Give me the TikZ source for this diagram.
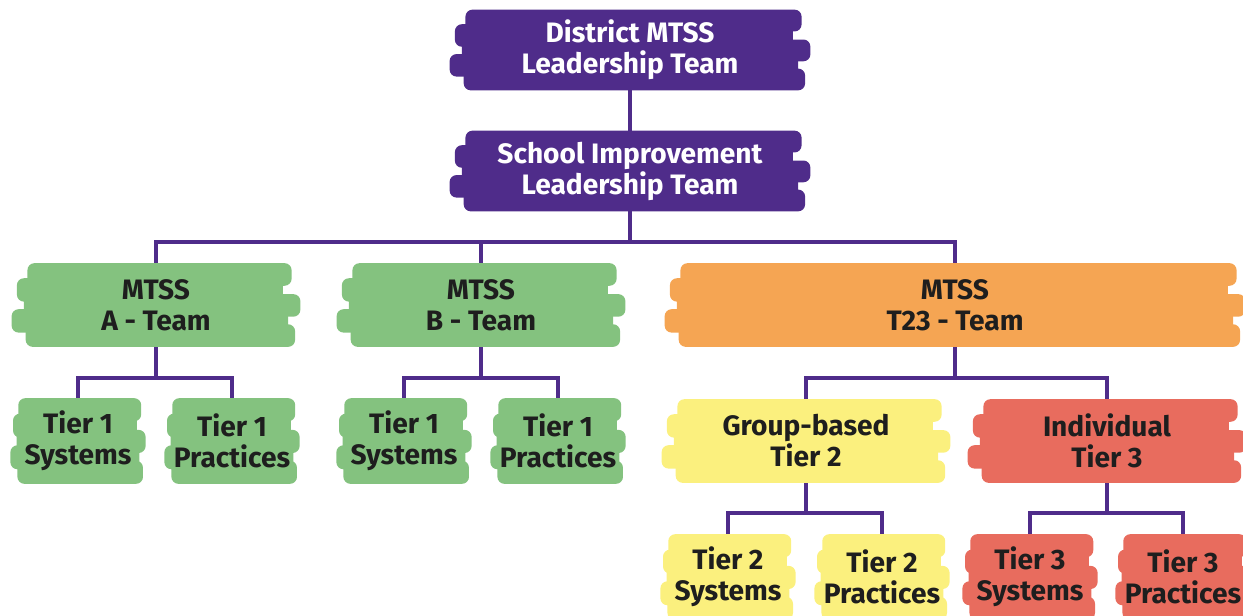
\documentclass[tikz,border=0pt]{standalone}
\usepackage{fontspec}
\setmainfont{Fira Sans}
\usetikzlibrary{positioning,backgrounds,calc}

\definecolor{mtsspurple}{HTML}{4F2C8A}
\definecolor{mtssgreen}{HTML}{84C27F}
\definecolor{mtssorange}{HTML}{F5A553}
\definecolor{mtssyellow}{HTML}{FBF07E}
\definecolor{mtssred}{HTML}{E86C5E}
\definecolor{mtssink}{HTML}{1E1E1E}

% brush strokes behind a node: node, colour, reach of the ragged ends
\newcommand{\brushfill}[3]{%
  \foreach \a/\b/\l/\r in {0/0.27/1/5, 0.18/0.46/7/0, 0.37/0.64/3/10, 0.55/0.83/10/3, 0.73/1/2/7}{
    \fill[#2, rounded corners=4pt]
      ($(#1.north west)!\a!(#1.south west)+({-\l*#3*1pt},0pt)$) rectangle
      ($(#1.north east)!\b!(#1.south east)+({\r*#3*1pt},0pt)$);
  }
}

\tikzset{
  box/.style={align=center, text=mtssink, inner sep=0pt,
    font=\bfseries\fontsize{16}{17.6}\selectfont},
  topbox/.style={box, text=white, minimum width=6.5cm, minimum height=1.6cm},
  teambox/.style={box, minimum width=5.06cm, minimum height=1.66cm},
  tierbox/.style={box, minimum width=2.34cm, minimum height=1.7cm},
  link/.style={draw=mtsspurple, line width=2pt},
}

\begin{document}
\begin{tikzpicture}[x=0.02cm, y=-0.02cm]
  \useasboundingbox (0,0) rectangle (1243,615);

  \node[topbox] (district) at (630,50) {District MTSS\\Leadership Team};
  \node[topbox] (school) at (630,171) {School Improvement\\Leadership Team};

  \node[teambox] (ateam) at (156,305) {MTSS\\A - Team};
  \node[teambox] (bteam) at (481,305) {MTSS\\B - Team};
  \node[teambox, minimum width=10.9cm] (tteam) at (955,305) {MTSS\\T23 - Team};

  \node[tierbox] (asys) at (78,441) {Tier 1\\Systems};
  \node[tierbox] (aprac) at (232,441) {Tier 1\\Practices};
  \node[tierbox] (bsys) at (404,441) {Tier 1\\Systems};
  \node[tierbox] (bprac) at (558,441) {Tier 1\\Practices};

  \node[teambox] (group) at (806,441) {Group-based\\Tier 2};
  \node[teambox, minimum width=4.86cm] (indiv) at (1107,441) {Individual\\Tier 3};

  \node[tierbox] (tsys) at (728,577) {Tier 2\\Systems};
  \node[tierbox] (tprac) at (882,577) {Tier 2\\Practices};
  \node[tierbox] (isys) at (1030,577) {Tier 3\\Systems};
  \node[tierbox] (iprac) at (1183,577) {Tier 3\\Practices};

  \coordinate (bus) at (630,242);
  \coordinate (busA) at (156,378);
  \coordinate (busB) at (481,378);
  \coordinate (busT) at (955,378);
  \coordinate (busG) at (806,513);
  \coordinate (busI) at (1107,513);

  \begin{scope}[on background layer]
    \draw[link] (district) -- (school);
    \draw[link] (school) -- (bus);
    \draw[link] (ateam) |- (bus) -| (tteam);
    \draw[link] (bteam) -- (bteam |- bus);
    \draw[link] (ateam) -- (busA);
    \draw[link] (asys) |- (busA) -| (aprac);
    \draw[link] (bteam) -- (busB);
    \draw[link] (bsys) |- (busB) -| (bprac);
    \draw[link] (tteam) -- (busT);
    \draw[link] (group) |- (busT) -| (indiv);
    \draw[link] (group) -- (busG);
    \draw[link] (tsys) |- (busG) -| (tprac);
    \draw[link] (indiv) -- (busI);
    \draw[link] (isys) |- (busI) -| (iprac);

    \brushfill{district}{mtsspurple}{1}
    \brushfill{school}{mtsspurple}{1}
    \brushfill{ateam}{mtssgreen}{1}
    \brushfill{bteam}{mtssgreen}{1}
    \brushfill{tteam}{mtssorange}{1}
    \brushfill{group}{mtssyellow}{1}
    \brushfill{indiv}{mtssred}{1}
    \foreach \n in {asys,aprac,bsys,bprac}{\brushfill{\n}{mtssgreen}{0.5}}
    \foreach \n in {tsys,tprac}{\brushfill{\n}{mtssyellow}{0.5}}
    \foreach \n in {isys,iprac}{\brushfill{\n}{mtssred}{0.5}}
  \end{scope}
\end{tikzpicture}
\end{document}
